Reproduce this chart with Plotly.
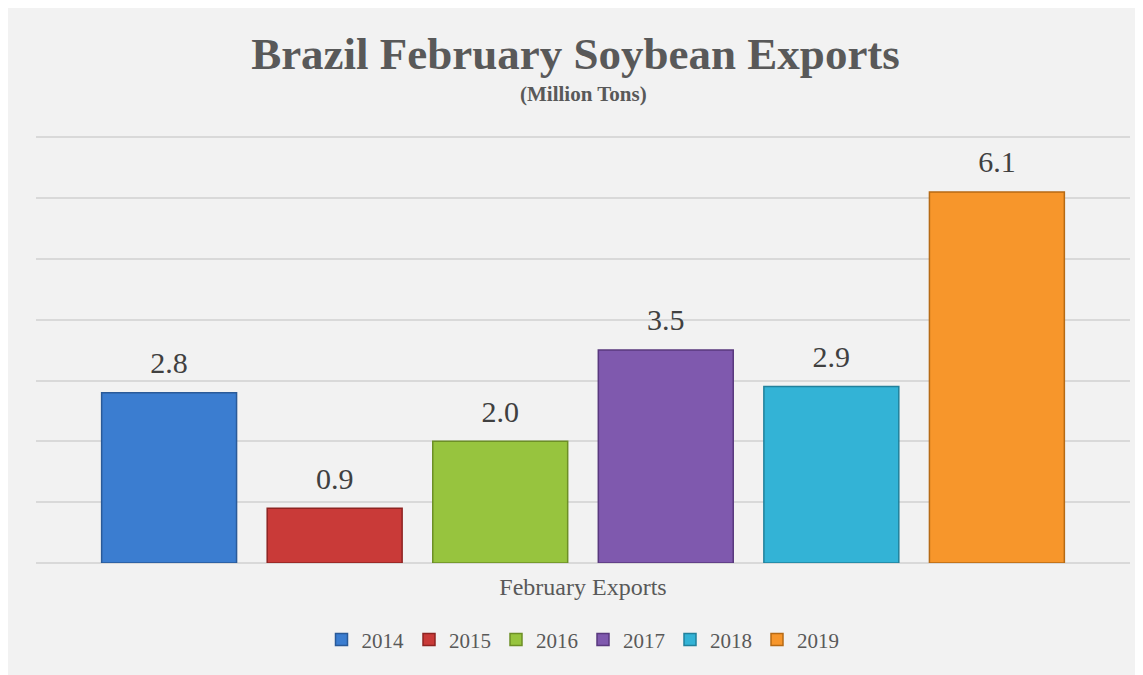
import plotly.graph_objects as go

category = ["February Exports"]
years = ["2014", "2015", "2016", "2017", "2018", "2019"]
values = [2.8, 0.9, 2.0, 3.5, 2.9, 6.1]
colors = ["#3b7dd0", "#c93a38", "#97c43e", "#7f59ae", "#33b3d6", "#f7962b"]
edge_colors = ["#2a5a98", "#8e2422", "#6d8f26", "#59397e", "#21819c", "#b66a14"]

FONT = "Liberation Serif, Times New Roman, serif"
BARGAP = 0.092

fig = go.Figure()
for yr, v, c, ec in zip(years, values, colors, edge_colors):
    fig.add_trace(go.Bar(
        x=category, y=[v], name=yr,
        marker=dict(color=c, line=dict(color=ec, width=1.5)),
        hoverinfo="name+y",
    ))
# value labels (grouped scatter text, aligned with bar slots)
for yr, v in zip(years, values):
    fig.add_trace(go.Scatter(
        x=category, y=[v], mode="markers+text", showlegend=False,
        marker=dict(size=18, color="rgba(0,0,0,0)"),
        text=[f"{v:.1f}"], textposition="top center",
        textfont=dict(family=FONT, size=30, color="#404040"),
        cliponaxis=False, hoverinfo="skip",
    ))

fig.update_layout(
    width=1135, height=667,
    paper_bgcolor="#f2f2f2", plot_bgcolor="#f2f2f2",
    margin=dict(l=28, r=13, t=128, b=112),
    barmode="group", bargap=BARGAP, bargroupgap=0.185,
    scattermode="group", scattergap=BARGAP,
    font=dict(family=FONT, color="#595959"),
    title=dict(
        text="<b>Brazil February Soybean Exports</b>",
        x=0.5, xanchor="center", y=0.932, yanchor="middle",
        font=dict(family=FONT, size=45, color="#595959"),
    ),
    annotations=[dict(
        text="<b>(Million Tons)</b>", xref="paper", yref="paper",
        x=0.5, y=1.0986, xanchor="center", yanchor="middle", showarrow=False,
        font=dict(family=FONT, size=21, color="#595959"),
    )],
    showlegend=True,
    legend=dict(
        orientation="h", x=0.5, xanchor="center", y=-0.18, yanchor="middle",
        font=dict(family=FONT, size=21, color="#595959"),
        bgcolor="rgba(0,0,0,0)", itemwidth=30, traceorder="normal",
    ),
)
fig.update_yaxes(range=[0, 7.02], dtick=1, tick0=0, showticklabels=False,
                 gridcolor="#d9d9d9", gridwidth=1.5,
                 zeroline=True, zerolinecolor="#d9d9d9", zerolinewidth=2)
fig.update_xaxes(showline=False, tickfont=dict(family=FONT, size=24, color="#595959"),
                 ticks="", ticklabelstandoff=7)

fig.write_html("out.html")
